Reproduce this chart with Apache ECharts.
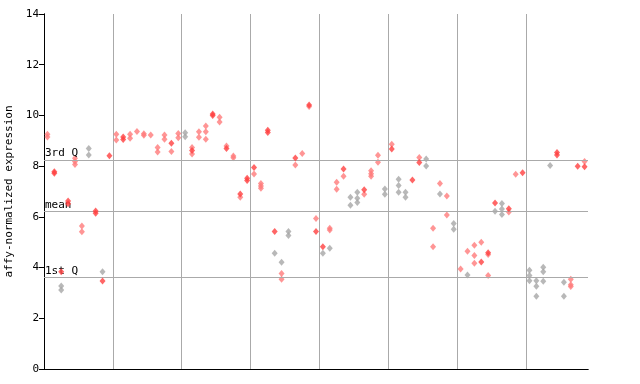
<!DOCTYPE html>
<html>
<head>
<meta charset="utf-8">
<script src="https://cdn.jsdelivr.net/npm/echarts@6/dist/echarts.min.js"></script>
<style>html,body{margin:0;padding:0;background:#fff;}#c{width:640px;height:384px;}</style>
</head>
<body>
<div id="c"></div>
<script>
// Column index (0..78) and expression value, grouped by marker style
const solidRed = [
  [1,7.78],[1,7.72],[2,3.84],[3,6.63],[3,6.52],[7,6.23],[7,6.14],[8,3.47],[9,8.41],
  [11,9.15],[11,9.05],[18,8.9],[21,8.62],[24,10.06],[24,10.0],[26,8.7],[28,6.90],
  [29,7.52],[29,7.43],[30,7.95],[32,9.42],[32,9.33],[33,5.42],[36,8.32],[38,10.41],
  [39,5.42],[40,4.82],[43,7.89],[46,7.07],[50,8.68],[53,7.45],[54,8.14],[63,4.22],
  [64,4.58],[65,6.55],[67,6.32],[69,7.74],[74,8.54],[74,8.44],[77,8.0],[78,7.98]
];
const lightRed = [
  [0,9.26],[0,9.15],[4,8.31],[4,8.18],[4,8.06],[5,5.64],[5,5.41],[10,9.26],[10,9.03],
  [12,9.26],[12,9.1],[13,9.37],[14,9.28],[14,9.22],[15,9.23],[16,8.74],[16,8.56],
  [17,9.23],[17,9.06],[18,8.58],[19,9.29],[19,9.12],[21,8.74],[21,8.48],[22,9.36],
  [22,9.14],[23,9.58],[23,9.36],[23,9.06],[25,9.93],[25,9.74],[26,8.79],[27,8.40],
  [27,8.33],[28,6.77],[30,7.69],[31,7.32],[31,7.22],[31,7.13],[34,3.77],[34,3.54],
  [36,8.05],[37,8.5],[38,10.35],[39,5.94],[41,5.55],[41,5.48],[42,7.36],[42,7.09],
  [43,7.60],[46,6.89],[47,7.82],[47,7.70],[47,7.60],[48,8.43],[48,8.15],[50,8.86],
  [54,8.34],[56,5.55],[56,4.82],[57,7.32],[58,6.82],[58,6.07],[60,3.94],[61,4.64],
  [62,4.88],[62,4.48],[62,4.17],[63,5.0],[64,4.52],[64,3.69],[67,6.19],[68,7.68],
  [76,3.54],[76,3.32],[76,3.25],[78,8.18]
];
const greyPts = [
  [2,3.27],[2,3.12],[6,8.70],[6,8.44],[8,3.84],[20,9.32],[20,9.16],[33,4.56],[34,4.21],
  [35,5.42],[35,5.26],[40,4.56],[41,4.76],[44,6.77],[44,6.46],[45,6.97],[45,6.73],
  [45,6.57],[49,7.10],[49,6.89],[51,7.48],[51,7.24],[51,6.97],[52,6.97],[52,6.77],
  [55,8.28],[55,8.01],[57,6.90],[59,5.74],[59,5.51],[61,3.71],[65,6.22],[66,6.53],
  [66,6.31],[66,6.09],[70,3.89],[70,3.69],[70,3.48],[71,3.48],[71,3.26],[71,2.87],
  [72,4.01],[72,3.84],[72,3.46],[73,8.03],[75,3.42],[75,2.87]
];
const refLines = [
  { name: '3rd Q', value: 8.24 },
  { name: 'mean', value: 6.22 },
  { name: '1st Q', value: 3.62 }
];
const yTicks = [0, 2, 4, 6, 8, 10, 12, 14];
const nColumns = 79;

const font = 'DejaVu Sans Mono';
const toXY = arr => arr.map(p => [p[0] + 0.5, p[1]]);
const sym = { symbol: 'diamond', symbolSize: [6, 7] };

const chart = echarts.init(document.getElementById('c'), null, { renderer: 'canvas' });
chart.setOption({
  animation: false,
  backgroundColor: '#fff',
  grid: { left: 44, right: 52, top: 14, bottom: 15, containLabel: false, outerBoundsMode: 'none' },
  xAxis: [
    {
      type: 'value', min: 0, max: nColumns, interval: 10,
      axisLine: { show: true, onZero: false, lineStyle: { color: '#000', width: 1 } },
      axisTick: { show: false }, axisLabel: { show: false },
      splitLine: { show: true, showMinLine: false, showMaxLine: false, lineStyle: { color: '#aaaaaa', width: 1 } }
    },
    {
      type: 'value', position: 'top', min: 0, max: nColumns,
      axisLine: { show: true, lineStyle: { color: '#000', width: 1 } },
      axisTick: { show: false }, axisLabel: { show: false }, splitLine: { show: false }
    }
  ],
  yAxis: [
    {
      type: 'value', min: yTicks[0], max: yTicks[yTicks.length - 1], interval: 2,
      name: 'affy-normalized expression', nameLocation: 'middle', nameGap: 28,
      nameTextStyle: { fontFamily: font, fontSize: 11, color: '#000' },
      axisLine: { show: true, lineStyle: { color: '#000', width: 1 } },
      axisTick: { show: true, inside: false, length: 5, lineStyle: { color: '#000' } },
      axisLabel: { fontFamily: font, fontSize: 11, color: '#000', margin: 5 },
      splitLine: { show: false }
    },
    {
      type: 'value', position: 'right', min: yTicks[0], max: yTicks[yTicks.length - 1], interval: 2,
      axisLine: { show: true, lineStyle: { color: '#000', width: 1 } },
      axisTick: { show: true, inside: true, length: 5, lineStyle: { color: '#000' } },
      axisLabel: { show: false }, splitLine: { show: false }
    }
  ],
  series: [
    {
      type: 'scatter', name: 'grey', data: toXY(greyPts), ...sym,
      itemStyle: { color: '#a6a6a6' }, z: 3,
      markLine: {
        silent: true, symbol: 'none', animation: false,
        lineStyle: { color: '#aaaaaa', type: 'solid', width: 1 },
        label: {
          show: true, position: 'insideStartTop', distance: [1, 1],
          fontFamily: font, fontSize: 11, color: '#000',
          formatter: p => p.name
        },
        emphasis: { disabled: true },
        data: refLines.map(r => ({ name: r.name, yAxis: r.value }))
      }
    },
    {
      type: 'scatter', name: 'light', data: toXY(lightRed), ...sym,
      itemStyle: { color: '#ff7a7a' }, z: 4
    },
    {
      type: 'scatter', name: 'solid', data: toXY(solidRed), ...sym,
      itemStyle: { color: '#ff4040' }, z: 5
    }
  ]
});
</script>
</body>
</html>
